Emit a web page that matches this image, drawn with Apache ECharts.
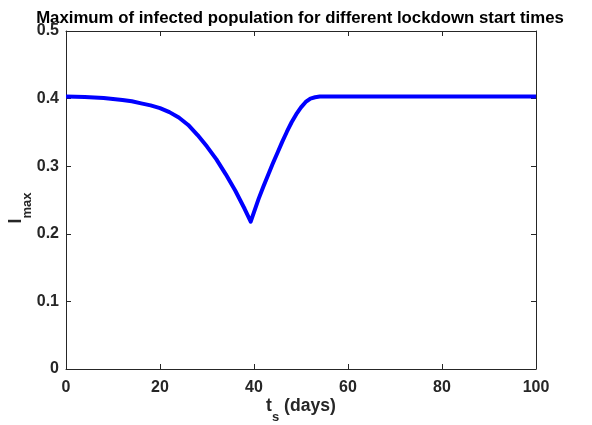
<!DOCTYPE html>
<html><head><meta charset="utf-8">
<script src="https://cdn.jsdelivr.net/npm/echarts@6/dist/echarts.min.js"></script>
<style>html,body{margin:0;padding:0;background:#fff}#c{width:592px;height:425px}</style>
</head><body><div id="c"></div>
<script>
const ts = [0,4,8,12,14,16,18,20,22,24,26,28,30,32,34,36,38,39.3,40,41,42,43,44,45,46,47,48,49,50,51,52,53,54,60,80,100];
const imax = [0.403,0.4025,0.401,0.398,0.396,0.393,0.390,0.386,0.380,0.372,0.361,0.346,0.329,0.310,0.288,0.264,0.237,0.218,0.232,0.252,0.270,0.287,0.304,0.320,0.336,0.351,0.365,0.377,0.387,0.395,0.400,0.402,0.403,0.403,0.403,0.403];
const xTicks = [0,20,40,60,80,100];
const yTicks = [0,0.1,0.2,0.3,0.4,0.5];

const axisColor = '#262626';
const font = 'Liberation Sans, Arial, Helvetica, sans-serif';
const chart = echarts.init(document.getElementById('c'));
const lineStyle = {color: axisColor, width: 1};
const tickStyle = {show: true, inside: true, length: 5, lineStyle};
chart.setOption({
  animation: false,
  title: {
    text: 'Maximum of infected population for different lockdown start times',
    left: 295, top: 5, textAlign: 'center',
    textStyle: {fontFamily: font, fontWeight: 'bold', fontSize: 16.8, color: '#000'}
  },
  grid: {left: 66, right: 56, top: 31, bottom: 56, outerBoundsMode: 'none', containLabel: false},
  xAxis: [{
    type: 'value', min: 0, max: 100, interval: 20,
    axisLine: {show: true, onZero: false, lineStyle},
    axisTick: tickStyle,
    axisLabel: {color: axisColor, fontFamily: font, fontWeight: 'bold', fontSize: 16, margin: 11,
      formatter: v => String(v)},
    splitLine: {show: false},
    name: '{a|t}{b|s}{a| (days)}', nameLocation: 'middle', nameGap: 28, nameMoveOverlap: false,
    nameTextStyle: {rich: {
      a: {fontFamily: font, fontWeight: 'bold', fontSize: 17.6, color: axisColor},
      b: {fontFamily: font, fontWeight: 'bold', fontSize: 13, color: axisColor, verticalAlign: 'bottom', padding: [0,0,-9,0]}
    }}
  }, {
    type: 'value', position: 'top', min: 0, max: 100, interval: 20,
    axisLine: {show: true, onZero: false, lineStyle},
    axisTick: tickStyle,
    axisLabel: {show: false}, splitLine: {show: false}
  }],
  yAxis: [{
    type: 'value', min: 0, max: 0.5, interval: 0.1,
    axisLine: {show: true, onZero: false, lineStyle},
    axisTick: tickStyle,
    axisLabel: {color: axisColor, fontFamily: font, fontWeight: 'bold', fontSize: 16, margin: 7,
      formatter: v => (Math.round(v*10)/10).toString()},
    splitLine: {show: false},
    name: '{a|I}{b|max}', nameLocation: 'middle', nameGap: 41, nameRotate: 90, nameMoveOverlap: false,
    nameTextStyle: {padding: [0, 16, 0, 0], rich: {
      a: {fontFamily: font, fontWeight: 'bold', fontSize: 17.6, color: axisColor},
      b: {fontFamily: font, fontWeight: 'bold', fontSize: 13, color: axisColor, verticalAlign: 'bottom', padding: [0,0,-9,0]}
    }}
  }, {
    type: 'value', position: 'right', min: 0, max: 0.5, interval: 0.1,
    axisLine: {show: true, onZero: false, lineStyle},
    axisTick: tickStyle,
    axisLabel: {show: false}, splitLine: {show: false}
  }],
  series: [{
    type: 'line', xAxisIndex: 0, yAxisIndex: 0,
    data: ts.map((t, i) => [t, imax[i]]),
    showSymbol: false, smooth: false,
    lineStyle: {color: '#0000ff', width: 4, join: 'round'}
  }]
});
</script></body></html>
